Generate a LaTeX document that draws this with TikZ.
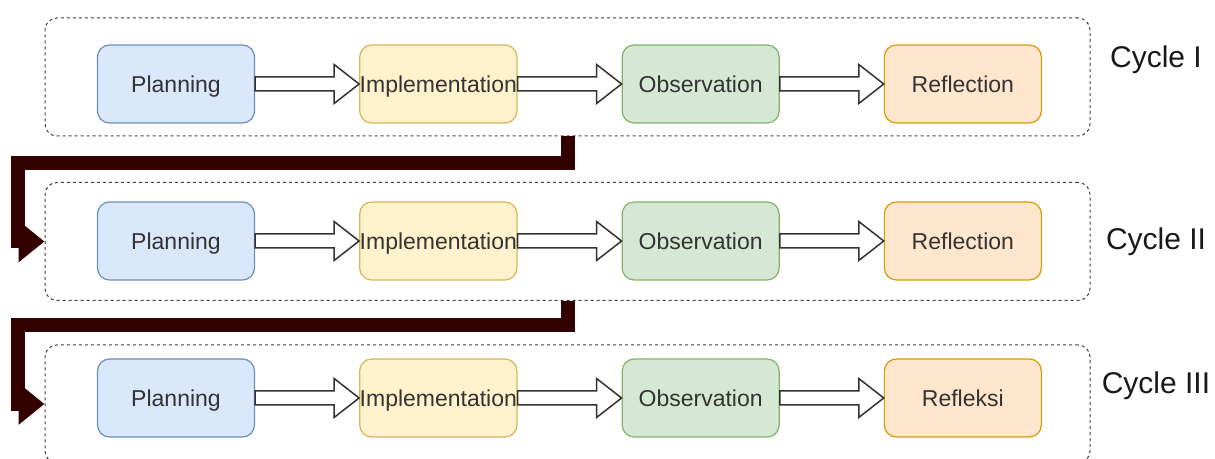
\documentclass[tikz,border=0pt]{standalone}
\usepackage{fontspec}
\setmainfont{Liberation Sans}
\usetikzlibrary{arrows.meta,calc,positioning}
\definecolor{planfill}{HTML}{DAE8FC}
\definecolor{planline}{HTML}{6C8EBF}
\definecolor{implfill}{HTML}{FFF2CC}
\definecolor{implline}{HTML}{D6B656}
\definecolor{obsfill}{HTML}{D5E8D4}
\definecolor{obsline}{HTML}{82B366}
\definecolor{reflfill}{HTML}{FFE6CC}
\definecolor{reflline}{HTML}{D79B00}
\definecolor{loopred}{HTML}{330000}
\tikzset{
    %Define style for stage boxes
    stage/.style={
           rectangle,
           rounded corners=6pt,
           line width=0.6pt,
           minimum width=78.5pt,
           minimum height=39pt,
           inner sep=0pt,
           text height=8.3pt,
           text depth=0pt,
           text=black!80,
           font=\fontsize{11.5}{13}\selectfont,
           text centered},
    plan/.style={stage, draw=planline, fill=planfill},
    impl/.style={stage, draw=implline, fill=implfill},
    obs/.style={stage, draw=obsline, fill=obsfill},
    refl/.style={stage, draw=reflline, fill=reflfill},
    %Define style for cycle frames
    cyclebox/.style={
           rectangle,
           rounded corners=6pt,
           draw=black!75,
           line width=0.5pt,
           dash pattern=on 1.5pt off 1.5pt,
           minimum width=522.5pt,
           minimum height=59pt},
    lbl/.style={
           text=black!90,
           font=\fontsize{15}{18}\selectfont},
    % Define arrow styles
    blk/.style={
           draw=black!80,
           fill=white,
           line width=0.75pt,
           line join=miter,
           to path={let \p1=(\tikztostart), \p2=(\tikztotarget) in
             (\x1,\y1+3.5pt) -- (\x2-12.5pt,\y1+3.5pt) -- (\x2-12.5pt,\y1+9.75pt)
             -- (\x2,\y1) -- (\x2-12.5pt,\y1-9.75pt) -- (\x2-12.5pt,\y1-3.5pt)
             -- (\x1,\y1-3.5pt) -- cycle}},
    loopline/.style={
           line width=7pt,
           draw=loopred,
           -{Triangle[length=13pt,width=20pt]}}
}
\begin{document}
\begin{tikzpicture}[x=0.5pt,y=-0.5pt,node distance=52pt]
\useasboundingbox (0,0) rectangle (1215,459);

% cycle frames
\node[cyclebox] (c1) at (567.5,77) {};
\node[cyclebox] (c2) at (567.5,241.5) {};
\node[cyclebox] (c3) at (567.5,404) {};
\node[lbl] (l1) at (1156,60) {Cycle I};
\node[lbl] (l2) at (1156,242) {Cycle II};
\node[lbl] (l3) at (1156,386) {Cycle III};

% cycle I
\node[plan] (p1) at (176,84) {Planning};
\node[impl, right=of p1] (i1) {Implementation};
\node[obs, right=of i1] (o1) {Observation};
\node[refl, right=of o1] (r1) {Reflection};

% cycle II
\node[plan] (p2) at (176,241) {Planning};
\node[impl, right=of p2] (i2) {Implementation};
\node[obs, right=of i2] (o2) {Observation};
\node[refl, right=of o2] (r2) {Reflection};

% cycle III
\node[plan] (p3) at (176,398) {Planning};
\node[impl, right=of p3] (i3) {Implementation};
\node[obs, right=of i3] (o3) {Observation};
\node[refl, right=of o3] (r3) {Refleksi};

\draw[blk] (p1.east) to (i1.west);
\draw[blk] (i1.east) to (o1.west);
\draw[blk] (o1.east) to (r1.west);
\draw[blk] (p2.east) to (i2.west);
\draw[blk] (i2.east) to (o2.west);
\draw[blk] (o2.east) to (r2.west);
\draw[blk] (p3.east) to (i3.west);
\draw[blk] (i3.east) to (o3.west);
\draw[blk] (o3.east) to (r3.west);

% links between cycles
\coordinate (b1) at (18,163);
\coordinate (b2) at (18,325);
\draw[loopline] (c1.south) |- (b1) |- (c2.west);
\draw[loopline] (c2.south) |- (b2) |- (c3.west);
\end{tikzpicture}
\end{document}
